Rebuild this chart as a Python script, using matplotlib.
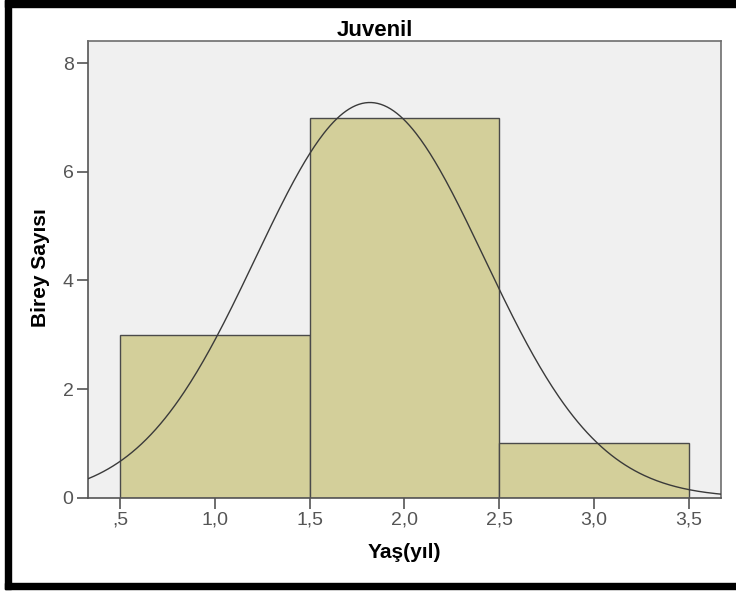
import numpy as np
import matplotlib
matplotlib.use("Agg")
import matplotlib.pyplot as plt
from matplotlib.patches import Rectangle

plt.rcParams['font.family'] = ['Liberation Sans', 'DejaVu Sans']

# Age groups (years) and number of individuals in each
ages = [1.0, 2.0, 3.0]
counts = [3, 7, 1]
bin_edges = [0.5, 1.5, 2.5, 3.5]

x_ticks = [0.5, 1.0, 1.5, 2.0, 2.5, 3.0, 3.5]
x_tick_labels = [",5", "1,0", "1,5", "2,0", "2,5", "3,0", "3,5"]
y_ticks = [0, 2, 4, 6, 8]

title = "Juvenil"
x_label = "Yaş(yıl)"
y_label = "Birey Sayısı"

W, H = 736, 592
fig = plt.figure(figsize=(W / 100, H / 100), dpi=100)
ax = fig.add_axes([87.5 / W, 94.3 / H, 633 / W, 456.7 / H])
ax.set_facecolor("#F0F0F0")

widths = np.diff(bin_edges)
ax.bar(bin_edges[:-1], counts, width=widths, align="edge",
       color="#D3CF9A", edgecolor="#4a4a4a", linewidth=1.0, zorder=2)

# Fitted normal curve scaled to counts
vals = np.repeat(ages, counts)
n = vals.size
mu = vals.mean()
sd = vals.std(ddof=1)
xlim = (0.329, 3.667)
xs = np.linspace(xlim[0], xlim[1], 400)
ys = n * widths[0] * np.exp(-0.5 * ((xs - mu) / sd) ** 2) / (sd * np.sqrt(2 * np.pi))
ax.plot(xs, ys, color="#3a3a3a", linewidth=1.0, zorder=3)

ax.set_xlim(*xlim)
ax.set_ylim(0, 8.41)
ax.set_xticks(x_ticks)
ax.set_yticks(y_ticks)

tick_font = dict(size=14, color="#555555")
ax.set_xticklabels(x_tick_labels, **tick_font)
ax.set_yticklabels([str(v) for v in y_ticks], **tick_font)

for s in ax.spines.values():
    s.set_color("#6e6e6e")
    s.set_linewidth(1.2)
ax.spines['left'].set_color("#555555")
ax.spines['bottom'].set_color("#555555")
ax.tick_params(axis="both", direction="out", length=8, width=1.2,
               color="#555555", pad=2)

fig.text(404 / W, 1 - 552 / H, x_label, ha="center", va="center",
         fontsize=15, fontweight="bold")
fig.text(41 / W, 1 - 268 / H, y_label, ha="center", va="center",
         rotation=90, fontsize=15, fontweight="bold")
fig.text(375 / W, 1 - 36 / H, title, ha="center", va="baseline",
         fontsize=16, fontweight="bold")

# Thick black frame on top, left and bottom
def frame(x0, y0, w, h):
    fig.patches.append(Rectangle((x0 / W, 1 - (y0 + h) / H), w / W, h / H,
                                 transform=fig.transFigure, color="black",
                                 zorder=10))
frame(5, 0, W - 5, 7)
frame(5, 0, 6, 589)
frame(5, 583, W - 5, 6)

fig.savefig("out.png", dpi=100)
